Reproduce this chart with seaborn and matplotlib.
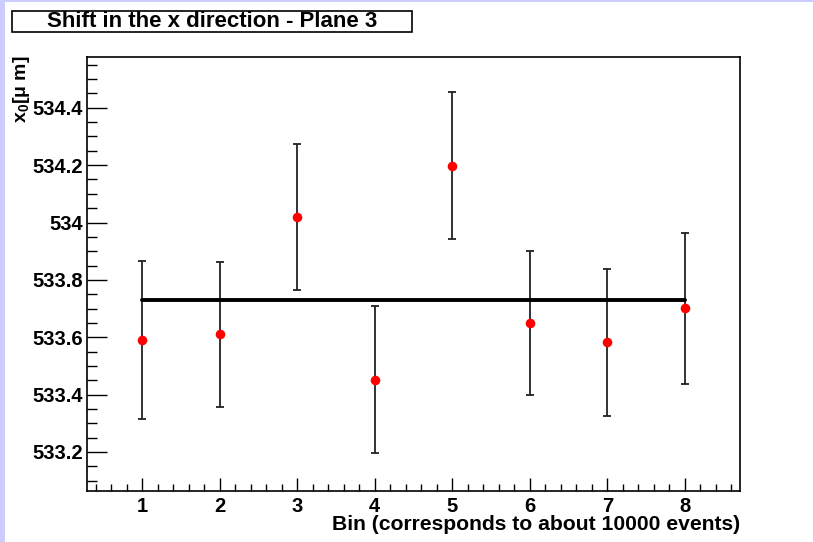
import matplotlib
matplotlib.use("Agg")
import matplotlib.pyplot as plt
from matplotlib.patches import Rectangle
from matplotlib.ticker import FixedLocator, MultipleLocator, FuncFormatter
import numpy as np
import pandas as pd
import seaborn as sns

# Per-bin shift measurements and their uncertainties
bins = [1, 2, 3, 4, 5, 6, 7, 8]
shift = [533.590, 533.610, 534.019, 533.452, 534.198, 533.649, 533.583, 533.701]
shift_err = [0.275, 0.254, 0.256, 0.257, 0.256, 0.251, 0.256, 0.263]
fit_value = 533.731

title_text = "Shift in the x direction - Plane 3"
x_label = "Bin (corresponds to about 10000 events)"
y_label = r"x$_{0}$[$\mu$ m]"

sns.set_theme(style="white")
plt.rcParams["font.family"] = ["Liberation Sans", "DejaVu Sans"]
plt.rcParams["mathtext.fontset"] = "custom"
plt.rcParams["mathtext.rm"] = "Liberation Sans:bold"
plt.rcParams["mathtext.it"] = "Liberation Sans:bold"
plt.rcParams["mathtext.bf"] = "Liberation Sans:bold"

W, H = 813, 542
fig = plt.figure(figsize=(W / 100, H / 100), dpi=100, facecolor="white")

# lavender canvas edge
fig.patches.append(Rectangle((0, 0), 5 / W, 1, transform=fig.transFigure,
                             facecolor="#ccccff", edgecolor="none", zorder=0))
fig.patches.append(Rectangle((0, 1 - 2 / H), 1, 2 / H, transform=fig.transFigure,
                             facecolor="#ccccff", edgecolor="none", zorder=0))

ax = fig.add_axes([87 / W, 51 / H, (740 - 87) / W, (491 - 57) / H])
ax.set_facecolor("white")

df = pd.DataFrame({"bin": bins, "shift": shift, "err": shift_err})

ax.errorbar(df["bin"], df["shift"], yerr=df["err"], fmt="none",
            ecolor="#222222", elinewidth=1.3, capsize=2.6, capthick=1.3, zorder=2)
sns.scatterplot(data=df, x="bin", y="shift", ax=ax, color="red", s=48,
                edgecolor="red", linewidth=0, zorder=3, legend=False)

fit_df = pd.DataFrame({"bin": [bins[0], bins[-1]], "fit": [fit_value, fit_value]})
sns.lineplot(data=fit_df, x="bin", y="fit", ax=ax, color="black",
             linewidth=2.8, zorder=4, legend=False)

ax.set_xlim(0.29, 8.71)
ax.set_ylim(533.064, 534.577)

ax.xaxis.set_major_locator(FixedLocator(bins))
ax.xaxis.set_minor_locator(MultipleLocator(0.2))
ax.yaxis.set_major_locator(FixedLocator([533.2, 533.4, 533.6, 533.8, 534.0, 534.2, 534.4]))
ax.yaxis.set_minor_locator(MultipleLocator(0.05))
ax.yaxis.set_major_formatter(FuncFormatter(lambda v, p: f"{v:g}"))

ax.tick_params(axis="x", which="major", direction="in", length=9.5, width=1,
               color="black", bottom=True, top=False, pad=4,
               labelsize=14.5, labelcolor="black")
ax.tick_params(axis="x", which="minor", direction="in", length=5, width=1,
               color="black", bottom=True, top=False)
ax.tick_params(axis="y", which="major", direction="in", length=14.5, width=1,
               color="black", left=True, right=False, pad=3,
               labelsize=14.5, labelcolor="black")
ax.tick_params(axis="y", which="minor", direction="in", length=7.2, width=1,
               color="black", left=True, right=False)
for lab in ax.get_xticklabels() + ax.get_yticklabels():
    lab.set_fontweight("bold")

for sp in ax.spines.values():
    sp.set_color("black")
    sp.set_linewidth(1.2)

ax.set_xlabel("")
ax.set_ylabel("")
fig.text(740 / W, 1 - 525 / H, x_label, ha="right", va="center",
         fontsize=15.2, fontweight="bold", color="black")
fig.text(21 / W, 1 - 55 / H, y_label, ha="center", va="top", rotation=90,
         fontsize=14, fontweight="bold", color="black")

# title box
fig.patches.append(Rectangle((12 / W, 1 - 32 / H), 400 / W, 21 / H,
                             transform=fig.transFigure, facecolor="white",
                             edgecolor="black", linewidth=1.2, zorder=5))
fig.text(212 / W, 1 - 21.5 / H, title_text, ha="center", va="center",
         fontsize=16, fontweight="bold", color="black", zorder=6)

fig.savefig("out.png", dpi=100, facecolor="white")
